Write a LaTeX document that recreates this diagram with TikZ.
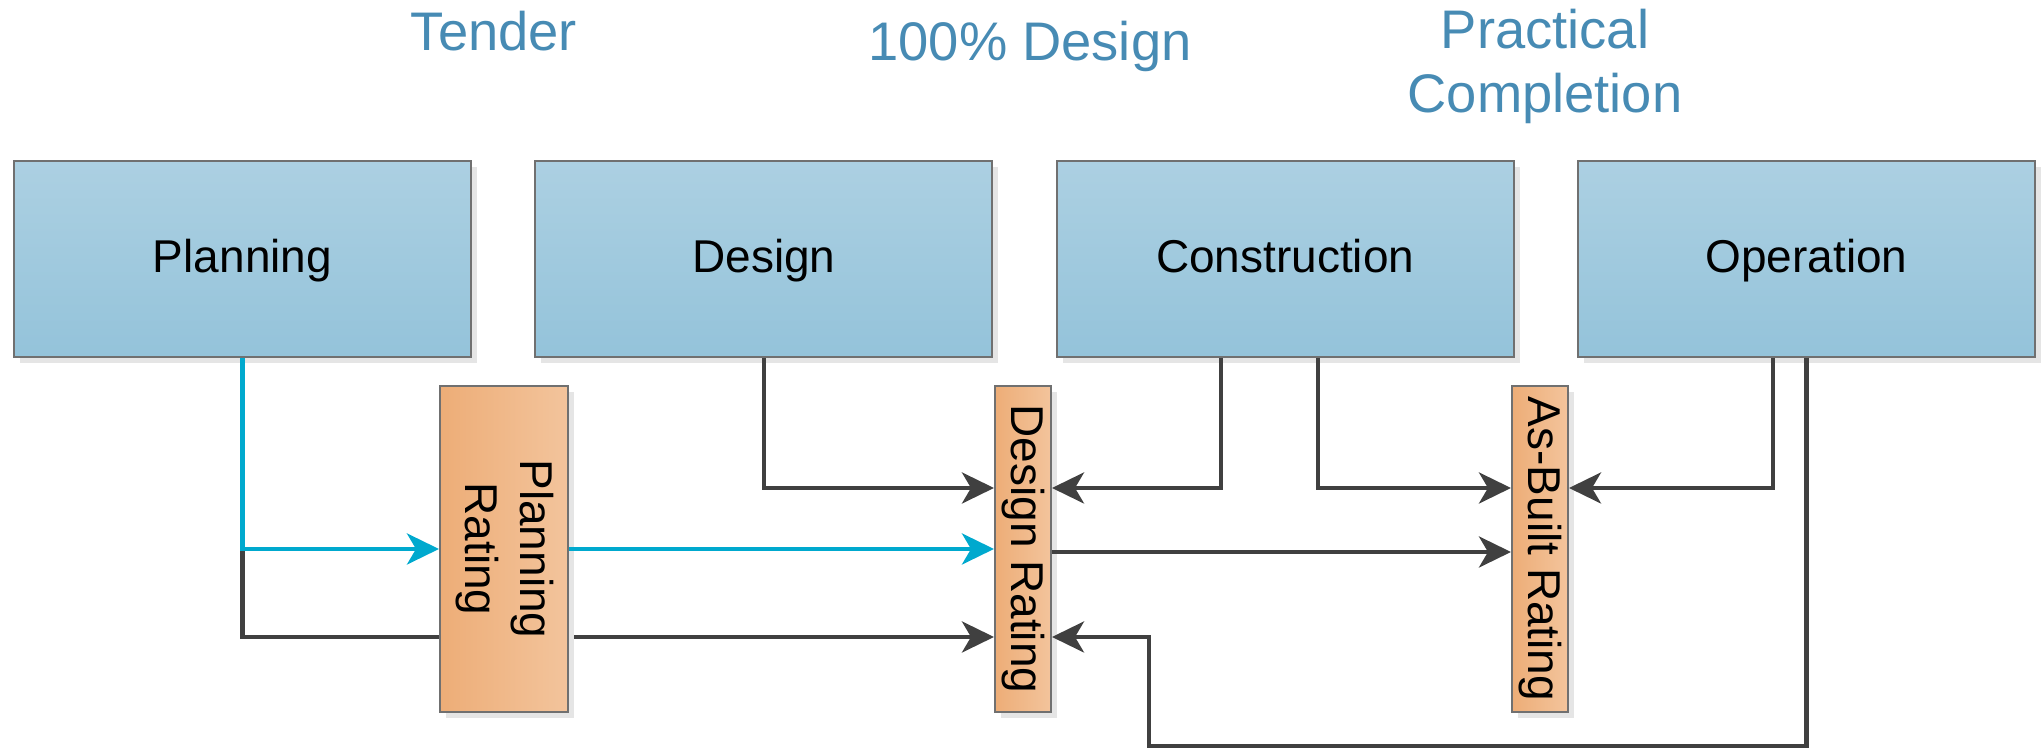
\documentclass[tikz,border=0pt]{standalone}
\usepackage{fontspec}
\setmainfont{Liberation Sans}
\usetikzlibrary{arrows.meta,positioning,shadows,backgrounds}
\definecolor{phasetop}{RGB}{172,208,226}
\definecolor{phasebot}{RGB}{148,195,218}
\definecolor{rateleft}{RGB}{237,173,119}
\definecolor{rateright}{RGB}{243,196,156}
\definecolor{boxline}{RGB}{112,112,112}
\definecolor{flowgray}{RGB}{64,64,64}
\definecolor{plancyan}{RGB}{0,169,206}
\definecolor{stagetext}{RGB}{71,139,180}
\begin{document}
\begin{tikzpicture}[x=0.3pt,y=-0.3pt,
  phase/.style={draw=boxline, line width=0.6pt, top color=phasetop, bottom color=phasebot,
    minimum width=137.1pt, minimum height=58.8pt, font=\fontsize{13.8}{16.5}\selectfont,
    text height=10.5pt, text depth=2.1pt,
    drop shadow={shadow xshift=1.8pt, shadow yshift=-1.8pt, fill=black!10, opacity=1}},
  rating/.style={draw=boxline, line width=0.6pt, left color=rateleft, right color=rateright,
    minimum height=97.8pt, inner sep=0pt, font=\fontsize{13.8}{16.5}\selectfont,
    drop shadow={shadow xshift=1.8pt, shadow yshift=-1.8pt, fill=black!10, opacity=1}},
  stage/.style={text=stagetext, font=\fontsize{16.3}{19.2}\selectfont, align=center},
  flow/.style={draw=flowgray, line width=1.25pt},
  plan/.style={draw=plancyan, line width=1.25pt},
  >={Stealth[length=9.6pt,width=9.3pt,inset=2.7pt]}]
\useasboundingbox (0,0) rectangle (2044,748);
%\draw[help lines] (0,0) grid[step=100] (2044,748);
% stages
\node[stage, anchor=base] (tender) at (494,51) {Tender};
\node[stage, anchor=base] (fulldesign) at (1030,61) {100\% Design};
\node[stage] (completion) at (1545,66.5) {Practical\\Completion};
% phases
\node[phase] (planning) at (242.5,259) {Planning};
\node[phase, right=18.7pt of planning] (design) {Design};
\node[phase, right=18.7pt of design] (construction) {Construction};
\node[phase, right=18.7pt of construction] (operation) {Operation};
% ratings
\node[rating, minimum width=38.4pt] (prate) at (504,549) {\rotatebox{-90}{\begin{tabular}{@{}c@{}}Planning\\Rating\end{tabular}}};
\node[rating, minimum width=16.8pt] (drate) at (1023,549) {\rotatebox{-90}{Design Rating}};
\node[rating, minimum width=16.8pt] (abrate) at (1540,549) {\rotatebox{-90}{As-Built Rating}};
% connectors
\begin{scope}[on background layer]
\draw[flow,->] (planning.south |- prate.west) |- ([yshift=-26.4pt]drate.west);
\end{scope}
\draw[plan,->] (planning.south) |- (prate.west);
\draw[plan,->] (prate.east) -- (drate.west);
\draw[flow,->] (design.south) |- ([yshift=18.3pt]drate.west);
\draw[flow,->] ([xshift=-19.35pt]construction.south) |- ([yshift=18.3pt]drate.east);
\draw[flow,->] ([xshift=9.75pt]construction.south) |- ([yshift=18.3pt]abrate.west);
\draw[flow,->] ([yshift=-0.9pt]drate.east) -- ([yshift=-0.9pt]abrate.west);
\draw[flow,->] ([xshift=-10.05pt]operation.south) |- ([yshift=18.3pt]abrate.east);
\coordinate (back) at (1149,746);
\draw[flow,->] (operation.south) |- (back) |- ([yshift=-26.4pt]drate.east);
\end{tikzpicture}
\end{document}
